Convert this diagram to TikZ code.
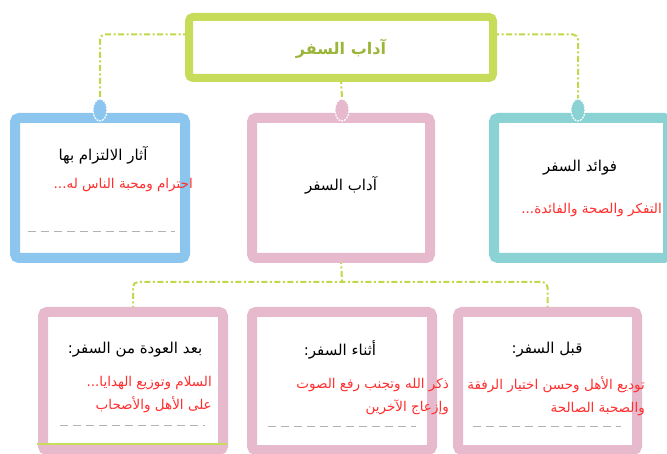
\documentclass[tikz,border=0pt]{standalone}
\usepackage{fontspec}
\TeXXeTstate=1
\newfontfamily\arabicfont[Script=Arabic]{DejaVu Sans}
\usetikzlibrary{shapes.geometric,backgrounds}
\definecolor{limec}{HTML}{C8DC5C}
\definecolor{linec}{HTML}{C2D84A}
\definecolor{titletxt}{HTML}{9BB53A}
\definecolor{bluec}{HTML}{8CC6EE}
\definecolor{pinkc}{HTML}{E6B9CD}
\definecolor{tealc}{HTML}{8AD2D4}
\definecolor{redc}{HTML}{FF2E2E}
\tikzset{
  framebox/.style={draw=#1, line width=10pt, rounded corners=4pt, fill=white, inner sep=0pt, outer sep=0pt},
  pin/.style={ellipse, fill=#1, draw=white, dashed, dash pattern=on 2pt off 1pt, line width=1.2pt, minimum width=14pt, minimum height=22pt, inner sep=0pt},
  connector/.style={draw=linec, line width=2pt, dash pattern=on 6pt off 2.5pt on 2pt off 2.5pt, rounded corners=5pt},
  head/.style={font=\arabicfont\fontsize{15}{17}\selectfont, text=black, inner sep=0pt},
  redtext/.style={font=\arabicfont\fontsize{13.5}{23}\selectfont, text=redc, align=right, inner sep=0pt},
  grayline/.style={draw=gray!60, line width=1pt, dash pattern=on 8pt off 5pt}
}
\begin{document}
\begin{tikzpicture}[x=1pt,y=-1pt]
\useasboundingbox (0,0) rectangle (667,454);
\clip (0,0) rectangle (667,454);
% title
\node[framebox=limec, line width=8pt, minimum width=304pt, minimum height=61pt] (title) at (341,47.5) {};
\node[font=\arabicfont\bfseries\fontsize{16}{19}\selectfont, text=titletxt] (titletext) at (341,49) {\beginR آداب السفر\endR};
% top boxes
\node[framebox=bluec, minimum width=170pt, minimum height=140pt] (tl) at (100,188) {};
\node[framebox=pinkc, minimum width=178pt, minimum height=140pt] (tm) at (341,188) {};
\node[framebox=tealc, minimum width=174pt, minimum height=140pt] (tr) at (581,188) {};
% bottom boxes
\node[framebox=pinkc, minimum width=180pt, minimum height=138pt] (bl) at (133,381) {};
\node[framebox=pinkc, minimum width=180pt, minimum height=138pt] (bm) at (342,381) {};
\node[framebox=pinkc, minimum width=179pt, minimum height=138pt] (br) at (547.5,381) {};
% pins
\node[pin=bluec] (pinl) at (100,110) {};
\node[pin=pinkc] (pinm) at (342,110) {};
\node[pin=tealc] (pinr) at (578,110) {};
% connectors
\coordinate (bus) at (342,282);
\begin{scope}[on background layer]
\draw[connector] ([yshift=13pt]title.west) -| (pinl.north);
\draw[connector] ([yshift=13pt]title.east) -| (pinr.north);
\draw[connector] (title.south) -- (pinm.north);
\draw[connector] (tm.south) -- (bus);
\draw[connector] (bl.north) |- (bus) -| (br.north);
\end{scope}
% texts top
\node[head] (tlh) at (103,155) {\beginR آثار الالتزام بها\endR};
\node[redtext, anchor=east] (tlr) at (193,185) {\beginR احترام ومحبة الناس له...\endR};
\node[head] (tmh) at (341,185) {\beginR آداب السفر\endR};
\node[head] (trh) at (580,168) {\beginR فوائد السفر\endR};
\node[redtext, anchor=east] (trr) at (662,210) {\beginR التفكر والصحة والفائدة...\endR};
% texts bottom
\node[head] (blh) at (135,350) {\beginR بعد العودة من السفر:\endR};
\node[redtext, anchor=north east] (blr) at (212,376) {\beginR السلام وتوزيع الهدايا...\endR\\\beginR على الأهل والأصحاب\endR};
\node[head] (bmh) at (340,350) {\beginR أثناء السفر:\endR};
\node[redtext, anchor=north east] (bmr) at (449,378) {\beginR ذكر الله وتجنب رفع الصوت\endR\\\beginR وإزعاج الآخرين\endR};
\node[head] (brh) at (547,350) {\beginR قبل السفر:\endR};
\node[redtext, anchor=north east] (brr) at (645,376) {\beginR توديع الأهل وحسن اختيار الرفقة\endR\\\beginR والصحبة الصالحة\endR};
% gray dashed lines
\coordinate (g1a) at (28,232); \coordinate (g1b) at (175,232);
\coordinate (g2a) at (60,425); \coordinate (g2b) at (205,425);
\coordinate (g3a) at (268,426); \coordinate (g3b) at (416,426);
\coordinate (g4a) at (473,426); \coordinate (g4b) at (621,426);
\draw[grayline] (g1a) -- (g1b);
\draw[grayline] (g2a) -- (g2b);
\draw[grayline] (g3a) -- (g3b);
\draw[grayline] (g4a) -- (g4b);
% faint green line at bottom of left box
\coordinate (gl1) at (37,444); \coordinate (gl2) at (227,444);
\draw[limec, line width=1.2pt] (gl1) -- (gl2);
\end{tikzpicture}
\end{document}
